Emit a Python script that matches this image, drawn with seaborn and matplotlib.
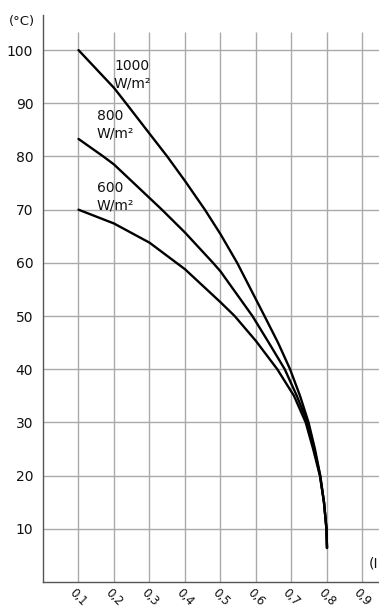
import numpy as np
import pandas as pd
import matplotlib
matplotlib.use("Agg")
import matplotlib.pyplot as plt
import seaborn as sns

# ---- data ----
irradiance = ["1000", "800", "600"]
x_1000 = [0.10, 0.20, 0.234, 0.30, 0.35, 0.40, 0.456, 0.50, 0.547, 0.624,
          0.662, 0.696, 0.724, 0.748, 0.766, 0.781, 0.7915, 0.7985, 0.80]
y_1000 = [100, 92.9, 90, 84.3, 80, 75.4, 70, 65.4, 60, 50,
          45, 40, 35, 30, 25, 20, 15, 10, 6.4]
x_800 = [0.10, 0.17, 0.20, 0.335, 0.40, 0.479, 0.50, 0.59, 0.636,
         0.681, 0.715, 0.745, 0.764, 0.7805, 0.7915, 0.7985, 0.80]
y_800 = [83.3, 80, 78.5, 70, 65.7, 60, 58.4, 50, 45,
         40, 35, 30, 25, 20, 15, 10, 6.4]
x_600 = [0.10, 0.20, 0.30, 0.376, 0.40, 0.50, 0.54, 0.60, 0.66,
         0.707, 0.740, 0.761, 0.780, 0.7915, 0.7985, 0.80]
y_600 = [70, 67.4, 63.8, 60, 58.8, 52.6, 50, 45.3, 40,
         35, 30, 25, 20, 15, 10, 6.4]

x_ticks = [0.1, 0.2, 0.3, 0.4, 0.5, 0.6, 0.7, 0.8, 0.9]
x_tick_labels = ["0,1", "0,2", "0,3", "0,4", "0,5", "0,6", "0,7", "0,8", "0,9"]
y_ticks = [10, 20, 30, 40, 50, 60, 70, 80, 90, 100]
curve_labels = ["1000\nW/m²", "800\nW/m²", "600\nW/m²"]
label_pos = [(0.200, 98.3), (0.151, 88.9), (0.151, 75.4)]

df = pd.concat([
    pd.DataFrame({"x": x_1000, "y": y_1000, "irr": "1000"}),
    pd.DataFrame({"x": x_800, "y": y_800, "irr": "800"}),
    pd.DataFrame({"x": x_600, "y": y_600, "irr": "600"}),
], ignore_index=True)

sns.set_theme(style="white")
plt.rcParams["font.family"] = ["DejaVu Sans"]

fig = plt.figure(figsize=(3.79, 6.11), dpi=100)
ax = fig.add_axes([43 / 379, 29 / 611, 1 - 43 / 379, 567 / 611])

XMAX = 0.9465
YMAX = 106.6
ax.set_xlim(0, XMAX)
ax.set_ylim(0, YMAX)

# grid
ax.vlines(x_ticks, 0, 103.4, colors="#aaaaaa", lw=1.0, zorder=0)
ax.hlines(y_ticks, 0, XMAX, colors="#aaaaaa", lw=1.0, zorder=0)

sns.lineplot(data=df, x="x", y="y", hue="irr", hue_order=irradiance,
             palette=["black"] * 3, estimator=None, sort=False,
             linewidth=1.7, legend=False, ax=ax, zorder=3)
for ln in ax.get_lines():
    ln.set_solid_joinstyle("round")

for lab, (lx, ly) in zip(curve_labels, label_pos):
    ax.text(lx, ly, lab, ha="left", va="top", fontsize=10,
            linespacing=1.3, color="#111111", zorder=4)

ax.set_xticks(x_ticks)
ax.set_xticklabels(x_tick_labels, rotation=-45, ha="center", va="top")
ax.set_yticks(y_ticks)
ax.set_yticklabels([str(v) for v in y_ticks])
ax.tick_params(axis="both", direction="in", length=13, width=1.0,
               color="black", labelcolor="#111111")
ax.tick_params(axis="y", pad=7, labelsize=10)
ax.tick_params(axis="x", pad=3, labelsize=8.5)

ax.set_xlabel("")
ax.set_ylabel("")

for s in ["top", "right"]:
    ax.spines[s].set_visible(False)
for s in ["left", "bottom"]:
    ax.spines[s].set_color("#555555")
    ax.spines[s].set_linewidth(1.0)

ax.text(-0.059, 105.4, "(°C)", ha="center", va="center", fontsize=9.5,
        color="#111111", clip_on=False)
ax.text(XMAX - 0.002, 3.4, "(I", ha="right", va="center", fontsize=10,
        color="#111111", clip_on=False)

fig.savefig("out.png", dpi=100)
